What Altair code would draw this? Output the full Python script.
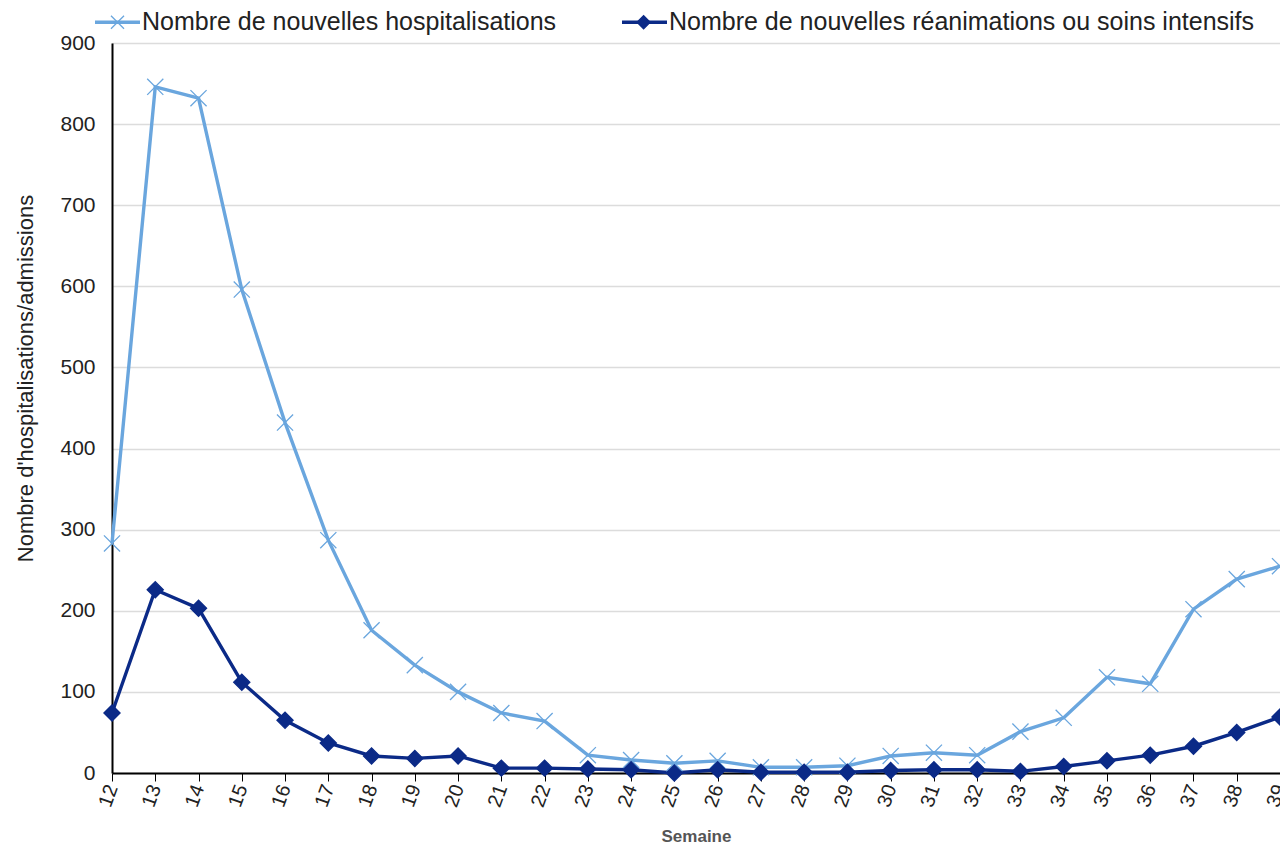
import altair as alt
import pandas as pd

weeks = list(range(12, 40))
hospitalisations = [283, 846, 832, 596, 432, 287, 176, 133, 100, 74, 64, 22, 16, 12, 15, 7, 7, 9,
                    21, 25, 22, 51, 68, 118, 110, 202, 239, 255]
reanimations = [74, 226, 203, 112, 65, 37, 21, 18, 21, 6, 6, 5, 4, 0, 4, 1, 1, 1,
                3, 4, 4, 2, 8, 15, 22, 33, 50, 69]

s_hosp = "Nombre de nouvelles hospitalisations"
s_rea = "Nombre de nouvelles réanimations ou soins intensifs"
series = [s_hosp, s_rea]
codes = ["h", "r"]
light = "#6aa6de"
dark = "#0b2a87"

df = pd.DataFrame({
    "Semaine": weeks * 2,
    "valeur": hospitalisations + reanimations,
    "serie": [s_hosp] * len(weeks) + [s_rea] * len(weeks),
    "code": ["h"] * len(weeks) + ["r"] * len(weeks),
})

FONT = "Liberation Sans"
LEG_FONT = 25
LEG_PAD = 58
# width of the first legend label at LEG_FONT (Liberation Sans metrics: 16.562 em)
LABEL1_W = 16.562 * LEG_FONT

x = alt.X("Semaine:Q",
          scale=alt.Scale(domain=[12, 39], nice=False, zero=False),
          axis=alt.Axis(values=weeks, format="d", labelAngle=-70, labelAlign="right",
                        labelBaseline="middle", labelFontSize=20, labelColor="#222",
                        labelPadding=4, tickSize=8, tickColor="#000", domainColor="#000",
                        domainWidth=2, grid=False, title="Semaine", titleFontSize=17,
                        titleColor="#555", titleFontWeight="bold", titleY=63,
                        titleBaseline="middle"))
y = alt.Y("valeur:Q",
          scale=alt.Scale(domain=[0, 900], nice=False),
          axis=alt.Axis(values=list(range(0, 901, 100)), labelFontSize=21, labelColor="#222",
                        labelPadding=17, ticks=False, domainColor="#000", domainWidth=2,
                        gridColor="#dcdcdc", gridWidth=1.5,
                        title="Nombre d'hospitalisations/admissions", titleFontSize=22,
                        titleColor="#222", titleFontWeight="normal", titleAngle=-90,
                        titleX=-87, titleY=335, titleAlign="center", titleBaseline="middle"))

# legend 1: the coloured lines with the labels (symbol column = ceil(45 + 3.5) = 49 px)
lines = alt.Chart(df).mark_line(strokeWidth=3.4).encode(
    x=x, y=y,
    color=alt.Color("serie:N", scale=alt.Scale(domain=series, range=[light, dark]),
                    legend=alt.Legend(title=None, orient="none", direction="horizontal",
                                      legendX=-19, legendY=-45.5, symbolType="stroke",
                                      symbolSize=2025, symbolStrokeWidth=3.5,
                                      labelFontSize=LEG_FONT, labelColor="#222",
                                      labelLimit=800, labelOffset=0,
                                      columnPadding=LEG_PAD)))

# legend 2: only the markers, drawn in the middle of the legend lines
# symbol column = max(ceil(sqrt(170) + 1.3), 25) = 25 px; blank label of one space
SPACE_W = 0.278 * LEG_FONT
marker_pad = (49 + LABEL1_W + LEG_PAD) - (25 + 24 + SPACE_W)

def marker_legend():
    return alt.Legend(title=None, orient="none", direction="horizontal",
                      legendX=-19, legendY=-33.5, symbolSize=170,
                      symbolStrokeWidth=1.3, symbolOffset=12,
                      labelFontSize=LEG_FONT, labelExpr="' '", labelOpacity=0,
                      labelLimit=800, labelOffset=24, columnPadding=marker_pad)

points = alt.Chart(df).mark_point(filled=True, size=260, strokeWidth=1.3, opacity=1).encode(
    x=x, y=y,
    fill=alt.Fill("code:N", scale=alt.Scale(domain=codes, range=[light, dark]),
                  legend=marker_legend()),
    stroke=alt.Stroke("code:N", scale=alt.Scale(domain=codes, range=[light, dark]),
                      legend=marker_legend()),
    shape=alt.Shape("code:N",
                    scale=alt.Scale(domain=codes, range=["M-1,-1L1,1M1,-1L-1,1", "diamond"]),
                    legend=marker_legend()),
)

chart = alt.layer(lines, points).properties(
    width=1168, height=730,
    autosize=alt.AutoSizeParams(type="none"),
    padding={"left": 104, "top": 35, "right": 0, "bottom": 74},
).configure_view(stroke=None).configure(font=FONT)

chart.save("out.html", embed_options={"renderer": "svg", "actions": False})
